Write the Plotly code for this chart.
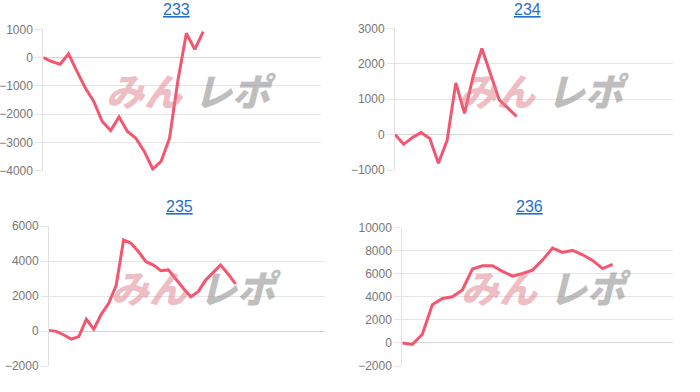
import plotly.graph_objects as go

titles = ["233", "234", "235", "236"]

s233 = [0, -140, -235, 130, -490, -1080, -1550, -2260, -2580, -2100, -2610, -2850,
        -3320, -3940, -3670, -2850, -800, 860, 290, 920]
s234 = [0, -275, -85, 60, -110, -810, -160, 1460, 600, 1650, 2430, 1680, 980, 745, 510]
s235 = [30, -20, -230, -460, -320, 670, 100, 950, 1580, 2600, 5200, 5010, 4530, 3960,
        3770, 3450, 3490, 2950, 2440, 1960, 2250, 2910, 3330, 3770, 3260, 2690]
s236 = [0, -130, 760, 3320, 3860, 4010, 4600, 6410, 6700, 6700, 6210, 5800, 6030, 6320,
        7190, 8230, 7860, 8030, 7650, 7160, 6450, 6820]

series = [s233, s234, s235, s236]
x_max = [33, 32, 37, 27]
y_ranges = [[-4000, 1000], [-1000, 3000], [-2000, 6000], [-2000, 10000]]
y_dticks = [1000, 1000, 2000, 2000]

W, H = 700, 392
# plot areas in pixels: (x0, x1, ytop, ybottom)
boxes = [(43.3, 321, 29.3, 170.7), (395, 673, 28.3, 170),
         (49, 325, 226, 366), (402.3, 672.7, 227.7, 366)]
title_pos = [(176, 10), (527, 10), (180, 206), (529, 206)]
mark_pos = [(104, 90), (457, 90), (109, 286), (459, 286)]

LINE = "#f4566f"
fig = go.Figure()
annotations = []
for i, (name, ys) in enumerate(zip(titles, series)):
    ax = "" if i == 0 else str(i + 1)
    x0, x1, yt, yb = boxes[i]
    fig.add_trace(go.Scatter(x=list(range(len(ys))), y=ys, mode="lines",
                             line=dict(color=LINE, width=3),
                             xaxis="x" + ax, yaxis="y" + ax, showlegend=False,
                             hoverinfo="skip"))
    fig.layout["xaxis" + ax] = dict(domain=[x0 / W, x1 / W], range=[0, x_max[i]],
                                    anchor="y" + ax, showgrid=False, zeroline=False,
                                    showticklabels=False, showline=False, fixedrange=True,
                                    automargin=False)
    fig.layout["yaxis" + ax] = dict(domain=[1 - yb / H, 1 - yt / H], range=y_ranges[i],
                                    dtick=y_dticks[i], tickformat="d", anchor="x" + ax,
                                    gridcolor="#e6e6e6", gridwidth=1,
                                    zeroline=True, zerolinecolor="#d4d4d4", zerolinewidth=1,
                                    showline=True, linecolor="#e2e2e2", linewidth=1,
                                    ticks="outside", ticklen=7, tickcolor="#e6e6e6",
                                    tickfont=dict(family="Liberation Sans, Arial", size=12,
                                                  color="#777777"),
                                    fixedrange=True, automargin=False)
    tx, ty = title_pos[i]
    annotations.append(dict(text="<u>" + name + "</u>", x=tx / W, y=1 - ty / H,
                            xref="paper", yref="paper", showarrow=False,
                            xanchor="center", yanchor="middle",
                            font=dict(family="Liberation Sans, Arial", size=16,
                                      color="#1f6fcf")))
    mx, my = mark_pos[i]
    annotations.append(dict(text="みん", x=mx / W, y=1 - my / H,
                            xref="paper", yref="paper", showarrow=False,
                            xanchor="left", yanchor="middle", opacity=0.5,
                            font=dict(family="Noto Sans CJK JP", size=38, weight=900,
                                      color="#de7f8a", style="italic")))
    annotations.append(dict(text="レポ", x=(mx + 88) / W, y=1 - my / H,
                            xref="paper", yref="paper", showarrow=False,
                            xanchor="left", yanchor="middle", opacity=0.55,
                            font=dict(family="Noto Sans CJK JP", size=38, weight=900,
                                      color="#8a8a8a", style="italic")))

fig.update_layout(width=W, height=H, margin=dict(l=0, r=0, t=0, b=0, autoexpand=False),
                  paper_bgcolor="white", plot_bgcolor="white",
                  annotations=annotations, showlegend=False)
fig.write_html("out.html")
